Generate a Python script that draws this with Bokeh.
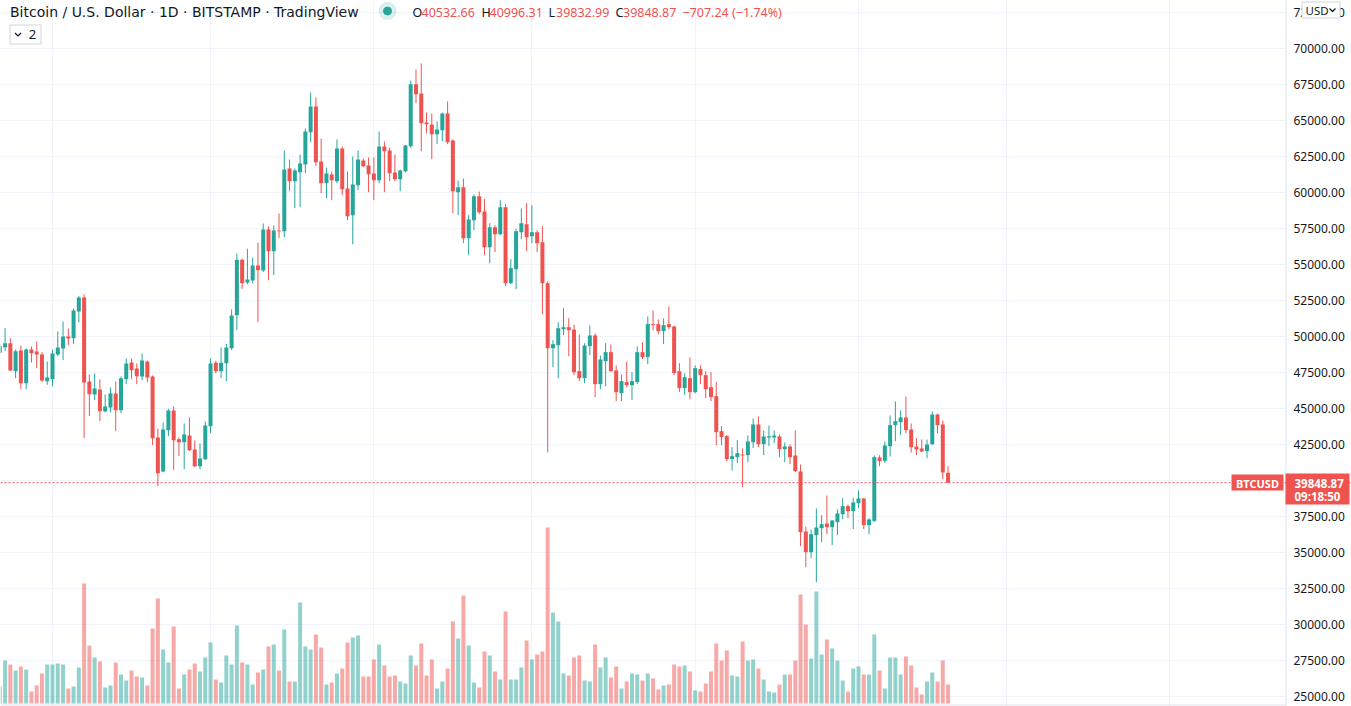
import pandas as pd
from bokeh.plotting import figure
from bokeh.models import Range1d, FixedTicker, Span, Label, ColumnDataSource
from bokeh.core.properties import value
from bokeh.embed import file_html
from bokeh.resources import INLINE

# ---------------- data (BTC/USD daily, Bitstamp) ----------------
start_date = "2021-08-22"
open_ = [
    48866, 49260, 49538, 47593, 49028, 46760, 49098, 48959, 48751, 46899,
    47038, 48751, 49167, 50001, 49885, 51737, 52709, 46876, 45973, 46320,
    44792, 45070, 46042, 44885, 47038, 48195, 47778, 47223, 48265, 47223,
    42986, 40625, 43495, 44860, 42870, 42661, 43124, 42152, 40994, 41481,
    43772, 48171, 47592, 48148, 49190, 51481, 55324, 53750, 53889, 54931,
    54583, 57431, 55926, 57361, 57315, 61666, 60786, 61411, 61944, 64189,
    65972, 62152, 60647, 61249, 60786, 63055, 60277, 58425, 60508, 62221,
    61874, 61319, 60856, 63194, 62916, 61388, 60925, 61481, 63217, 67523,
    66875, 64861, 64722, 64050, 64328, 65486, 63610, 60022, 60369, 56828,
    58078, 59744, 58680, 56202, 57591, 57105, 58980, 53702, 54675, 57244,
    57800, 56966, 57244, 56550, 53702, 49188, 49396, 50508, 50646, 50487,
    47594, 47108, 49330, 50071, 46691, 48288, 48913, 47640, 46066, 46830,
    46621, 46830, 48913, 48566, 50858, 50858, 50372, 50858, 50696, 47594,
    46413, 47108, 46135, 47733, 47316, 46482, 45857, 43427, 43079, 41482,
    41621, 41806, 41760, 42663, 43890, 42524, 42987, 42987, 43056, 42177,
    42362, 41737, 40626, 36459, 35023, 36204, 36690, 37014, 36759, 37107,
    37662, 38218, 37871, 38426, 38750, 36898, 37199, 41598, 41366, 42385,
    43843, 44052, 44376, 43542, 42362, 42223, 42038, 42524, 44584, 43890,
    40532.66]
high = [
    49500, 50580, 49885, 49098, 49376, 49167, 49306, 49654, 48913, 48265,
    49098, 50348, 51043, 50556, 51945, 52802, 52918, 47362, 47431, 47014,
    45973, 46459, 46876, 47223, 48473, 48473, 48126, 48820, 48334, 47292,
    43611, 44028, 44976, 45138, 42985, 43958, 44374, 42777, 42569, 44097,
    48472, 48310, 49236, 49490, 51875, 55764, 55400, 56088, 55486, 56528,
    57848, 57639, 57709, 58542, 62916, 62291, 61666, 62638, 64444, 66944,
    66597, 63749, 61735, 61458, 63680, 63194, 61458, 62499, 62916, 62360,
    62430, 62430, 64236, 63541, 63124, 62638, 61596, 63300, 67777, 68541,
    68958, 65555, 65486, 64930, 65550, 66319, 63700, 60832, 60970, 58425,
    59860, 60069, 59536, 57869, 57730, 59467, 59189, 55369, 57453, 58888,
    59258, 59119, 57383, 57661, 53841, 49744, 50994, 51966, 51272, 50835,
    50140, 49538, 50765, 50210, 48682, 49538, 49446, 47987, 47362, 48265,
    47524, 49307, 49608, 51390, 51807, 51182, 51251, 52085, 50760, 48149,
    47455, 48543, 47987, 47987, 47594, 47524, 46830, 43774, 43149, 42315,
    42802, 42223, 43126, 44306, 44445, 43473, 43820, 43473, 43195, 42640,
    42501, 43473, 41112, 36806, 36597, 38056, 37593, 38959, 37246, 37986,
    38774, 38334, 38774, 39306, 38774, 37385, 41737, 41760, 42709, 44515,
    45487, 44862, 45834, 43959, 42941, 42848, 42848, 44793, 44650, 44167,
    40996.31]
low = [
    48800, 48982, 47593, 47107, 46343, 46343, 48195, 47802, 46829, 46644,
    46551, 48635, 48357, 49399, 49468, 50973, 42940, 44468, 45579, 44121,
    44746, 44746, 43426, 44676, 46690, 47038, 46690, 46968, 46829, 42454,
    39606, 40579, 43078, 40740, 41689, 40786, 42050, 40925, 40786, 41434,
    43309, 47453, 47106, 46898, 49051, 50440, 53310, 53634, 53704, 50995,
    54468, 53912, 54259, 56829, 56897, 60092, 58911, 58980, 61342, 63495,
    61828, 59953, 59606, 59467, 60647, 59814, 58078, 56411, 60161, 61758,
    60022, 59467, 60647, 60022, 60786, 60786, 60092, 61411, 63100, 66203,
    62870, 64097, 62314, 63356, 63564, 63356, 58564, 58425, 56480, 55647,
    57383, 58494, 55647, 55091, 55855, 57036, 53494, 53633, 53286, 56758,
    55925, 56480, 55855, 51549, 41965, 47868, 47105, 50091, 48632, 47316,
    46899, 46760, 48705, 45788, 46344, 46552, 47524, 45510, 45510, 46482,
    45580, 46691, 48427, 48080, 50418, 50163, 49469, 50511, 47316, 46135,
    45927, 45649, 46050, 46691, 45719, 45510, 42454, 42454, 41343, 40695,
    41204, 39537, 41274, 42246, 42315, 41760, 42385, 42593, 41621, 41274,
    41135, 40579, 35440, 33981, 34607, 32940, 35718, 36273, 35509, 36204,
    37315, 37385, 36621, 38079, 36621, 36273, 37107, 40996, 41204, 41667,
    42732, 43149, 43288, 41945, 41760, 41968, 41552, 42454, 43288, 40093,
    39832.99]
close = [
    49330, 49538, 47639, 48982, 46760, 49098, 48843, 48751, 46945, 47153,
    48820, 49237, 50001, 49862, 51806, 52709, 46806, 45996, 46389, 44815,
    45139, 46042, 44885, 47107, 48126, 47663, 47246, 48334, 47153, 42940,
    40509, 43542, 44860, 42800, 42661, 43194, 42106, 40994, 41527, 43819,
    48125, 47592, 48171, 49236, 51458, 55324, 53704, 53958, 54931, 54607,
    57431, 55926, 57361, 57315, 61596, 60786, 61527, 62013, 64236, 65972,
    62106, 60647, 61319, 60856, 63055, 60231, 58355, 60555, 62291, 61828,
    61272, 60856, 63194, 62870, 61342, 60925, 61527, 63263, 67523, 66828,
    64814, 64745, 64050, 64374, 65486, 63495, 60092, 60369, 56828, 58124,
    59744, 58633, 56202, 57591, 57105, 58980, 53702, 54744, 57314, 57869,
    56897, 57244, 56480, 53702, 49188, 49466, 50577, 50646, 50438, 47524,
    47108, 49376, 50071, 46691, 48404, 48913, 47594, 46135, 46899, 46621,
    46899, 48913, 48566, 50858, 50788, 50372, 50788, 50649, 47455, 46413,
    47177, 46135, 47802, 47316, 46344, 45788, 43357, 43010, 41482, 41690,
    41899, 41737, 42709, 43890, 42524, 43056, 43079, 43126, 42177, 42362,
    41621, 40649, 36412, 35023, 36273, 36736, 36968, 36759, 37222, 37709,
    38218, 37871, 38473, 38750, 36898, 37292, 41621, 41343, 42431, 43843,
    44121, 44376, 43496, 42315, 42153, 42015, 42501, 44584, 43843, 40556.11,
    39848.87]
volume = [
    1360, 3440, 3120, 2640, 2960, 2720, 960, 1440, 2400, 3120,
    3120, 3200, 3120, 1200, 1360, 2880, 9600, 4640, 3680, 3360,
    1280, 1440, 3280, 2320, 1840, 2640, 2160, 2080, 1440, 6000,
    8400, 4320, 3280, 6160, 1200, 2320, 2720, 3200, 2560, 3680,
    4880, 1920, 1680, 3840, 3120, 6240, 3280, 3120, 1520, 2480,
    2720, 4560, 4720, 2640, 5920, 1760, 1760, 8080, 4560, 4320,
    5520, 4480, 1520, 1680, 2400, 2800, 4880, 5280, 5440, 2160,
    2160, 3520, 4720, 3040, 2160, 2240, 1760, 1600, 3840, 3040,
    4800, 2240, 3520, 1200, 1760, 2800, 6560, 5200, 8640, 4640,
    1680, 1280, 4160, 3840, 2560, 1920, 7360, 1920, 1920, 2880,
    5040, 3520, 3920, 4160, 14080, 7280, 6560, 2400, 2240, 3680,
    3840, 1840, 1760, 4720, 2880, 3680, 2080, 2960, 1200, 1760,
    2400, 2320, 1840, 2400, 2000, 1120, 1440, 1520, 3120, 2960,
    3040, 2560, 1040, 960, 1600, 2560, 4800, 3440, 4240, 2240,
    2160, 4960, 3440, 3520, 2800, 1920, 960, 880, 1520, 2320,
    2320, 3440, 8720, 6320, 3600, 8960, 3920, 5120, 4400, 3440,
    1840, 960, 2800, 2960, 2320, 2320, 5520, 2640, 1200, 3680,
    3680, 2320, 3760, 3040, 1280, 720, 1760, 2480, 1760, 3440,
    1520]
price_ticks = [25000, 27500, 30000, 32500, 35000, 37500, 40000, 42500, 45000,
               47500, 50000, 52500, 55000, 57500, 60000, 62500, 65000, 67500,
               70000, 72500]
month_starts = ["2021-08-01", "2021-09-01", "2021-10-01", "2021-11-01", "2021-12-01",
                "2022-01-01", "2022-02-01", "2022-03-01", "2022-04-01"]
header_text = "Bitcoin / U.S. Dollar · 1D · BITSTAMP · TradingView"
symbol = "BTCUSD"
countdown = "09:18:50"
currency = "USD"
pane_count = "2"

# ---------------- layout helpers (page pixel -> data) ----------------
UP, DOWN, INK = "#26a69a", "#ef5350", "#131722"
ORIGIN = pd.Timestamp("2021-09-01")
ORIGIN_PX, PPD = 52.0, 5.268          # page x of ORIGIN, pixels per day
Y0_PX, Y0_VAL, PX_PER_2500 = 48.0, 70000.0, 36.0
VOL_PER_PX, VOL_BASE_PX = 80.0, 703.0
AXIS_PX = 1285.5
W, H = 1351, 706


def xpos(px):
    return (ORIGIN + pd.Timedelta(days=(px - ORIGIN_PX) / PPD)).value / 1e6


def ypos(py):
    return Y0_VAL - (py - Y0_PX) * 2500.0 / PX_PER_2500


DAY_MS = 86400000.0
dates = pd.date_range(start_date, periods=len(close), freq="D")
colors = [UP if c >= o else DOWN for o, c in zip(open_, close)]
src = ColumnDataSource(dict(
    date=dates, open=open_, high=high, low=low, close=close, volume=volume,
    top=[max(o, c) for o, c in zip(open_, close)],
    bottom=[min(o, c) for o, c in zip(open_, close)],
    color=colors))

p = figure(width=W, height=H, x_axis_type="datetime", x_axis_location=None,
           y_axis_location=None,
           x_range=Range1d(xpos(0), xpos(W)),
           y_range=Range1d(ypos(H), ypos(0)),
           toolbar_location=None, output_backend="svg",
           min_border_left=0, min_border_top=0, min_border_bottom=0, min_border_right=0,
           outline_line_color=None, background_fill_color="white",
           border_fill_color="white")
p.extra_y_ranges = {"vol": Range1d((VOL_BASE_PX - H) * VOL_PER_PX,
                                   VOL_BASE_PX * VOL_PER_PX)}

# grid
p.ygrid.ticker = FixedTicker(ticks=price_ticks)
p.ygrid.grid_line_color = "#f0f3fa"
p.xgrid.ticker = FixedTicker(ticks=[pd.Timestamp(m).value / 1e6 for m in month_starts])
p.xgrid.grid_line_color = "#f0f3fa"

# volume
p.vbar(x="date", width=0.76 * DAY_MS, top="volume", bottom=0, source=src,
       fill_color="color", fill_alpha=0.5, line_color=None, y_range_name="vol")
# candles
p.segment(x0="date", y0="high", x1="date", y1="low", source=src,
          line_color="color", line_width=1)
p.vbar(x="date", width=0.76 * DAY_MS, top="top", bottom="bottom", source=src,
       fill_color="color", line_color=None)

# last price line
last = close[-1]
p.add_layout(Span(location=last, dimension="width", line_color=DOWN,
                  line_dash="2 2", line_width=1))

# time-axis pane border at the bottom
p.segment(x0=[xpos(0)], y0=[ypos(704.5)], x1=[xpos(AXIS_PX)], y1=[ypos(704.5)],
          line_color="#e0e3eb", line_width=1)

# ---------------- price scale (right) ----------------
p.quad(left=[xpos(AXIS_PX)], right=[xpos(W + 10)], bottom=[ypos(H + 10)], top=[ypos(-10)],
       fill_color="white", line_color=None)
p.segment(x0=[xpos(AXIS_PX)], y0=[ypos(-10)], x1=[xpos(AXIS_PX)], y1=[ypos(H + 10)],
          line_color="#e0e3eb", line_width=1)
tick_src = ColumnDataSource(dict(y=price_ticks, x=[xpos(1293)] * len(price_ticks),
                                 label=[f"{t:.2f}" for t in price_ticks]))
p.text(x="x", y="y", text="label", source=tick_src, text_font=value("Noto Sans"),
       text_font_size="12px", text_color=INK, text_baseline="middle", text_align="left")

# price tag on the scale
p.quad(left=[xpos(1285)], right=[xpos(1349)], top=[ypos(473)], bottom=[ypos(504)],
       fill_color=DOWN, line_color=None)
p.add_layout(Label(x=xpos(1294), y=ypos(483), text=f"{last:.2f}", text_font="Noto Sans",
                   text_font_style="bold", text_font_size="11.5px", text_color="white",
                   text_baseline="middle", text_align="left"))
p.add_layout(Label(x=xpos(1294), y=ypos(496), text=countdown, text_font="Noto Sans",
                   text_font_style="bold", text_font_size="11.5px", text_color="white",
                   text_baseline="middle", text_align="left"))
# symbol tag
p.quad(left=[xpos(1231)], right=[xpos(1283)], top=[ypos(474)], bottom=[ypos(490)],
       fill_color=DOWN, line_color=None)
p.add_layout(Label(x=xpos(1257), y=ypos(482.5), text=symbol, text_font="Noto Sans",
                   text_font_style="bold", text_font_size="11px", text_color="white",
                   text_baseline="middle", text_align="center"))

# USD button
p.quad(left=[xpos(1301.5)], right=[xpos(1339.5)], top=[ypos(1.5)], bottom=[ypos(17.5)],
       fill_color="white", line_color="#d1d4dc", line_width=1)
p.add_layout(Label(x=xpos(1305), y=ypos(9.5), text=currency, text_font="Noto Sans",
                   text_font_size="11.5px", text_color=INK,
                   text_baseline="middle", text_align="left"))
p.line(x=[xpos(1329), xpos(1332), xpos(1335)], y=[ypos(8), ypos(11), ypos(8)],
       line_color=INK, line_width=1.2)

# ---------------- legend / header ----------------
p.add_layout(Label(x=xpos(9.5), y=ypos(11), text=header_text, text_font="DejaVu Sans",
                   text_font_size="14px", text_color=INK,
                   text_baseline="middle", text_align="left"))
p.scatter(x=[xpos(387)], y=[ypos(10.5)], size=17, color=UP, alpha=0.16)
p.scatter(x=[xpos(387)], y=[ypos(10.5)], size=8, color=UP)

chg = close[-1] - close[-2]
pct = chg / close[-2] * 100
lc = DOWN if chg < 0 else UP
items = [("O", 412, INK), (f"{open_[-1]:.2f}", 421, lc),
         ("H", 481, INK), (f"{high[-1]:.2f}", 489, lc),
         ("L", 548, INK), (f"{low[-1]:.2f}", 555.5, lc),
         ("C", 615, INK), (f"{close[-1]:.2f}", 622.5, lc),
         (f"{chg:.2f} ({pct:.2f}%)".replace("-", "\u2212"), 682, lc)]
for t, px, c in items:
    p.add_layout(Label(x=xpos(px), y=ypos(11.5), text=t, text_font="Noto Sans",
                       text_font_size="12.5px", text_color=c,
                       text_baseline="middle", text_align="left"))

# pane toggle box
p.quad(left=[xpos(9.5)], right=[xpos(40.5)], top=[ypos(24.5)], bottom=[ypos(43.5)],
       fill_color="white", line_color="#d1d4dc", line_width=1)
p.line(x=[xpos(14.5), xpos(17.5), xpos(20.5)], y=[ypos(32.5), ypos(35.5), ypos(32.5)],
       line_color=INK, line_width=1.2)
p.add_layout(Label(x=xpos(32), y=ypos(34), text=pane_count, text_font="Noto Sans",
                   text_font_size="13px", text_color=INK,
                   text_baseline="middle", text_align="center"))

open("out.html", "w").write(file_html(p, INLINE))
